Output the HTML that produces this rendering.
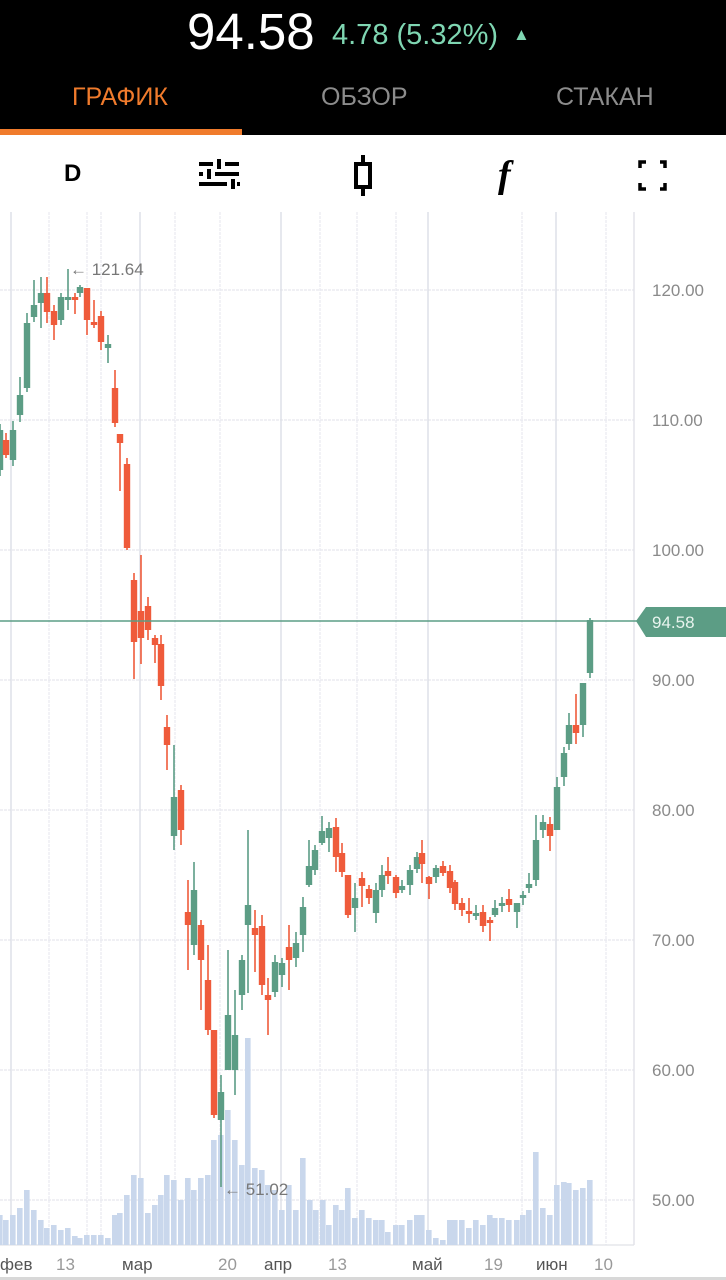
<!DOCTYPE html>
<html><head><meta charset="utf-8"><style>
body{margin:0;width:726px;height:1280px;overflow:hidden;background:#fff;font-family:"Liberation Sans",sans-serif;position:relative}
.hdr{position:absolute;left:0;top:0;width:726px;height:135px;background:#000}
.t{position:absolute;white-space:nowrap}
</style></head><body>
<div class="hdr"></div>
<div class="t" style="left:187px;top:2px;font-size:51px;color:#fff;letter-spacing:0px">94.58</div>
<div class="t" style="left:332px;top:19px;font-size:29px;color:#7fd6b2">4.78 (5.32%)</div>
<div class="t" style="left:513px;top:25px;font-size:17px;color:#7fd6b2">▲</div>
<div class="t" style="left:72px;top:83px;font-size:25px;color:#f07b2c">ГРАФИК</div>
<div class="t" style="left:321px;top:83px;font-size:25px;color:#8c8c8c">ОБЗОР</div>
<div class="t" style="left:556px;top:83px;font-size:25px;color:#8c8c8c">СТАКАН</div>
<div style="position:absolute;left:0;top:129px;width:242px;height:6px;background:#f07b2c"></div>
<div class="t" style="left:64px;top:160px;font-size:24px;font-weight:bold;color:#000">D</div>
<svg style="position:absolute;left:0;top:135px" width="726" height="1145">
<g fill="#000">
<rect x="199" y="27" width="14" height="4"/><rect x="217" y="24" width="4" height="10"/><rect x="225" y="27" width="14" height="4"/>
<rect x="199" y="37" width="4" height="4"/><rect x="207" y="34" width="4" height="10"/><rect x="215" y="37" width="24" height="4"/>
<rect x="199" y="47" width="28" height="4"/><rect x="231" y="44" width="4" height="10"/><rect x="237" y="47" width="3" height="4"/>
<rect x="361" y="20" width="4" height="10"/><rect x="361" y="51" width="4" height="10"/>
<rect x="356" y="29" width="14" height="23" fill="none" stroke="#000" stroke-width="4"/>
<path d="M640 33v-6h6M660 27h5v6M665 48v6h-5M646 54h-6v-6" fill="none" stroke="#000" stroke-width="3.5"/>
</g>
<text x="498" y="52" font-family="Liberation Serif" font-style="italic" font-weight="bold" font-size="38">f</text>
</svg>
<svg id="c" style="position:absolute;left:0;top:0" width="726" height="1280"></svg>
<script>
var s='';
var H=[290,420,550,680,810,940,1070,1200];
H.forEach(function(y){s+='<line x1="0" x2="634" y1="'+y+'" y2="'+y+'" stroke="#e6e8ee" stroke-width="1.2" stroke-dasharray="3,1"/>';});
[49,87,101,175,220,320,357,396,522,606].forEach(function(x){s+='<line x1="'+x+'" x2="'+x+'" y1="212" y2="1245" stroke="#e8eaf0" stroke-width="1.2" stroke-dasharray="3,1"/>';});
[11,140,281,428,556].forEach(function(x){s+='<line x1="'+x+'" x2="'+x+'" y1="212" y2="1245" stroke="#dcdee6" stroke-width="1.4"/>';});
s+='<line x1="634" x2="634" y1="212" y2="1245" stroke="#e0e2e8" stroke-width="1.4"/>';
s+='<line x1="0" x2="634" y1="1245" y2="1245" stroke="#e0e2e8" stroke-width="1.2"/>';
var V=[[0,1215],[6,1220],[13,1215],[20,1208],[27,1190],[34,1210],[41,1220],[47,1228],[54,1225],[61,1230],[68,1228],[75,1236],[80,1238],[87,1235],[94,1235],[101,1235],[108,1238],[115,1215],[120,1213],[127,1195],[134,1175],[141,1178],[148,1213],[155,1205],[161,1195],[167,1175],[174,1180],[181,1200],[188,1178],[194,1190],[201,1178],[208,1175],[214,1140],[221,1135],[228,1110],[235,1140],[242,1165],[248,1038],[255,1168],[262,1170],[268,1185],[275,1190],[282,1210],[289,1185],[296,1210],[303,1158],[310,1200],[316,1210],[323,1200],[329,1225],[336,1205],[342,1210],[348,1188],[355,1218],[362,1210],[369,1218],[376,1220],[382,1220],[388,1232],[396,1225],[402,1225],[410,1220],[417,1215],[422,1215],[429,1230],[436,1238],[443,1240],[450,1220],[455,1220],[462,1220],[469,1228],[476,1220],[483,1225],[490,1215],[495,1218],[502,1218],[509,1220],[517,1220],[523,1215],[529,1210],[536,1152],[543,1208],[550,1215],[557,1185],[564,1182],[569,1183],[576,1190],[583,1188],[590,1180]];
V.forEach(function(v){s+='<rect x="'+(v[0]-3)+'" y="'+v[1]+'" width="5.6" height="'+(1245-v[1])+'" fill="#c9d7ec"/>';});
var G='#5c9d85',R='#ef5b3b';
var C=[[0,'g',430,470,424,476],[6,'r',440,455,433,458],[13,'g',430,460,421,466],[20,'g',395,415,377,422],[27,'g',323,388,313,392],[34,'g',305,317,280,322],[41,'g',293,303,277,328],[47,'r',293,312,277,323],[54,'r',311,325,305,340],[61,'g',297,320,293,325],[68,'g',297,300,269,310],[75,'r',297,299,293,314],[80,'g',287,293,285,297],[87,'r',288,320,288,335],[94,'r',322,324,300,328],[101,'r',316,342,311,350],[108,'g',344,348,335,363],[115,'r',388,423,370,427],[120,'r',434,443,434,491],[127,'r',464,548,458,550],[134,'r',580,642,573,679],[141,'r',611,638,555,664],[148,'r',606,630,597,640],[155,'r',638,645,635,663],[161,'r',644,686,635,700],[167,'r',727,745,715,770],[174,'g',797,836,745,850],[181,'r',790,830,785,845],[188,'r',912,925,880,970],[194,'g',890,945,862,955],[201,'r',925,960,920,1010],[208,'r',980,1030,945,1035],[214,'r',1030,1115,1030,1118],[221,'g',1092,1120,1075,1187],[228,'g',1015,1070,950,1070],[235,'g',1035,1070,990,1095],[242,'g',960,995,955,1010],[248,'g',905,925,830,993],[255,'r',928,935,910,972],[262,'r',926,985,915,995],[268,'r',995,1000,978,1035],[275,'g',962,992,955,997],[282,'g',963,975,958,987],[289,'r',947,960,925,990],[296,'g',943,958,932,967],[303,'g',907,935,897,952],[309,'g',866,885,840,887],[315,'g',850,870,845,875],[322,'g',831,843,816,845],[329,'g',828,838,822,852],[336,'r',827,857,818,872],[342,'r',853,872,843,877],[348,'r',875,915,875,918],[355,'g',898,908,883,932],[362,'r',878,886,872,907],[369,'r',889,898,885,904],[376,'g',890,913,883,923],[382,'g',875,890,865,897],[388,'r',871,876,857,884],[396,'r',877,893,875,898],[402,'g',886,890,880,893],[410,'g',870,885,865,895],[417,'g',857,869,852,873],[422,'r',853,864,840,883],[429,'r',877,884,876,899],[436,'g',868,877,865,883],[443,'r',866,873,861,876],[450,'r',871,888,865,893],[455,'r',882,904,880,910],[462,'r',903,910,898,916],[469,'r',911,914,898,923],[476,'g',913,916,905,920],[483,'r',912,926,905,932],[490,'r',920,922,917,941],[495,'g',908,915,900,917],[502,'g',903,906,897,912],[509,'r',899,905,889,912],[517,'g',903,912,903,928],[523,'g',895,898,891,905],[529,'g',884,888,873,893],[536,'g',840,880,815,886],[543,'g',822,830,815,838],[550,'r',824,836,817,851],[557,'g',787,830,777,830],[564,'g',753,777,747,786],[569,'g',725,744,713,750],[576,'r',725,733,694,744],[583,'g',683,725,683,737],[590,'g',620,673,618,678]];
C.forEach(function(c){var col=c[1]=='g'?G:R;var h=Math.max(c[3]-c[2],3);
s+='<line x1="'+c[0]+'" x2="'+c[0]+'" y1="'+c[4]+'" y2="'+c[5]+'" stroke="'+col+'" stroke-width="1.6"/>';
s+='<rect x="'+(c[0]-3.2)+'" y="'+c[2]+'" width="6.4" height="'+h+'" fill="'+col+'"/>';});
s+='<line x1="0" x2="640" y1="621" y2="621" stroke="#5c9d85" stroke-width="1.6"/>';
s+='<path d="M636 621 L646 607 H726 V637 H646 Z" fill="#5c9d85"/>';
s+='<text x="652" y="628" font-size="17" fill="#e8f4ee" font-family="Liberation Sans">94.58</text>';
[[120,290],[110,420],[100,550],[90,680],[80,810],[70,940],[60,1070],[50,1200]].forEach(function(a){s+='<text x="652" y="'+(a[1]+6)+'" font-size="17" fill="#8a8a8a" font-family="Liberation Sans">'+a[0]+'.00</text>';});
s+='<text x="70" y="275" font-size="17" fill="#777" font-family="Liberation Sans">← 121.64</text>';
s+='<text x="224" y="1195" font-size="17" fill="#777" font-family="Liberation Sans">← 51.02</text>';
[['фев',0,'#555'],['13',56,'#999'],['мар',122,'#555'],['20',218,'#999'],['апр',264,'#555'],['13',328,'#999'],['май',412,'#555'],['19',484,'#999'],['июн',536,'#555'],['10',594,'#999']].forEach(function(a){s+='<text x="'+a[1]+'" y="1270" font-size="17" fill="'+a[2]+'" font-family="Liberation Sans">'+a[0]+'</text>';});
s+='<rect x="0" y="1277" width="726" height="3" fill="#d8d8d8"/>';
document.getElementById('c').innerHTML=s;
</script>
</body></html>
